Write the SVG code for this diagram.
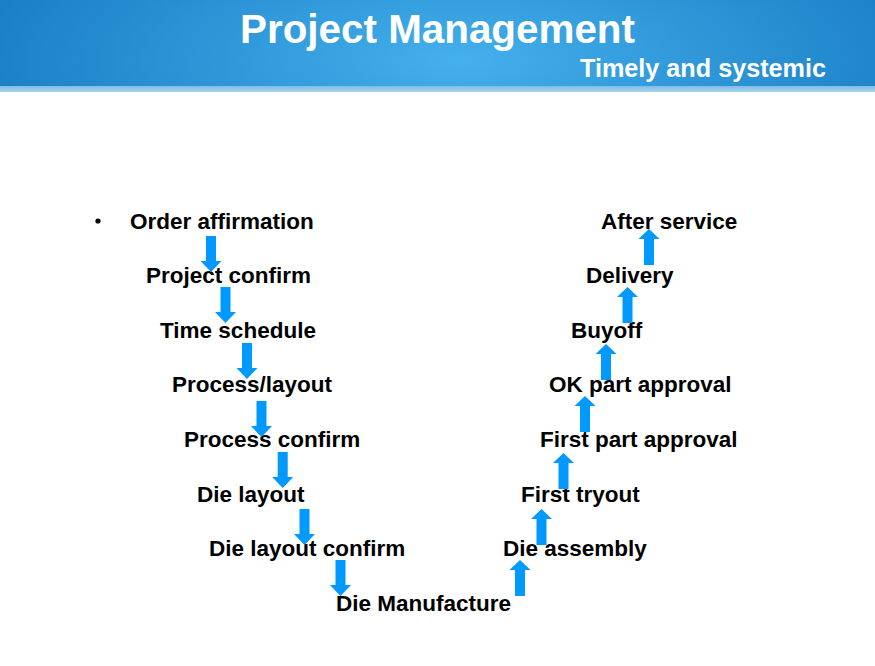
<svg xmlns="http://www.w3.org/2000/svg" width="875" height="666" viewBox="0 0 875 666">
<defs>
<radialGradient id="hdr" cx="460" cy="60" r="480" gradientUnits="userSpaceOnUse" gradientTransform="translate(460 60) scale(1 0.35) translate(-460 -60)">
<stop offset="0" stop-color="#44b0ec"/>
<stop offset="1" stop-color="#1b7fc6"/>
</radialGradient>
<linearGradient id="strip" x1="0" y1="0" x2="0" y2="1">
<stop offset="0" stop-color="#7fbde6"/>
<stop offset="1" stop-color="#a9d3ef"/>
</linearGradient>
<path id="down" d="M-5,0 H5 V25 H10.5 L0,36 L-10.5,25 H-5 Z"/>
<path id="up" d="M-5,0 H5 V-26 H10.5 L0,-36 L-10.5,-26 H-5 Z"/>
</defs>
<style>
.t{font-family:"Liberation Sans",Arial,sans-serif;font-weight:bold;font-size:22.5px;fill:#000}
.h{font-family:"Liberation Sans",Arial,sans-serif;font-weight:bold;fill:#fff}
.a{fill:#0099ff}
</style>
<g id="header">
<rect x="0" y="0" width="875" height="87" fill="url(#hdr)"/>
<rect x="0" y="86" width="875" height="6" fill="url(#strip)"/>
<text class="h" x="240" y="43" font-size="41" textLength="395" lengthAdjust="spacingAndGlyphs">Project Management</text>
<text class="h" x="580" y="77" font-size="25" textLength="246" lengthAdjust="spacingAndGlyphs">Timely and systemic</text>
</g>
<g id="bullet"><circle cx="98" cy="221" r="2.6" fill="#000"/></g>
<g id="n1"><text class="t" x="130" y="228.5">Order affirmation</text></g>
<g id="n2"><text class="t" x="146" y="283">Project confirm</text></g>
<g id="n3"><text class="t" x="160" y="337.5">Time schedule</text></g>
<g id="n4"><text class="t" x="172" y="392">Process/layout</text></g>
<g id="n5"><text class="t" x="184" y="447">Process confirm</text></g>
<g id="n6"><text class="t" x="197" y="501.5">Die layout</text></g>
<g id="n7"><text class="t" x="209" y="556">Die layout confirm</text></g>
<g id="n8"><text class="t" x="336" y="610.5">Die Manufacture</text></g>
<g id="n9"><text class="t" x="503" y="556">Die assembly</text></g>
<g id="n10"><text class="t" x="521" y="501.5">First tryout</text></g>
<g id="n11"><text class="t" x="540" y="447">First part approval</text></g>
<g id="n12"><text class="t" x="549" y="392">OK part approval</text></g>
<g id="n13"><text class="t" x="571" y="337.5">Buyoff</text></g>
<g id="n14"><text class="t" x="586" y="283">Delivery</text></g>
<g id="n15"><text class="t" x="601" y="228.5">After service</text></g>
<g id="connectors" class="a">
<use href="#down" x="211" y="236"/>
<use href="#down" x="225.5" y="287"/>
<use href="#down" x="247" y="343"/>
<use href="#down" x="261.5" y="401"/>
<use href="#down" x="282.7" y="452"/>
<use href="#down" x="304.5" y="509"/>
<use href="#down" x="340.5" y="560"/>
<use href="#up" x="520" y="596"/>
<use href="#up" x="541.5" y="545"/>
<use href="#up" x="563.5" y="489"/>
<use href="#up" x="585" y="432"/>
<use href="#up" x="606" y="380"/>
<use href="#up" x="627.5" y="323"/>
<use href="#up" x="649" y="265"/>
</g>
</svg>
